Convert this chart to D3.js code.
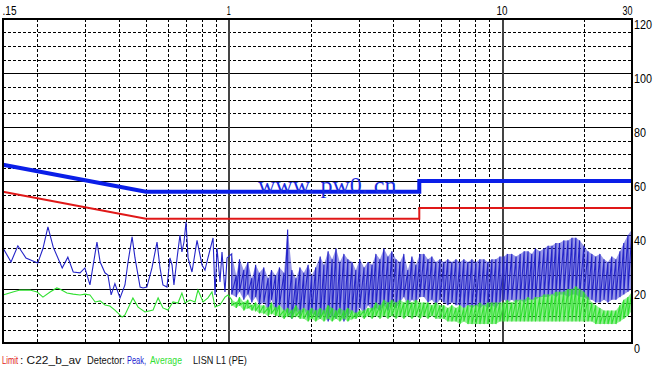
<!DOCTYPE html>
<html><head><meta charset="utf-8">
<script src="https://cdn.jsdelivr.net/npm/d3@7"></script>
<style>
html,body{margin:0;padding:0;background:#fff;}
svg{display:block;}
text{font-family:'Liberation Sans',Arial,sans-serif;}
</style></head>
<body><svg id="c" width="654" height="372"></svg>
<script>
// ---- data ----
const xTickValues = [0.15, 1, 10, 30];
const xTickLabels = [".15", "1", "10", "30"];
const yTickValues = [0, 20, 40, 60, 80, 100, 120];
const xMinorGrid = [0.2,0.3,0.4,0.5,0.6,0.7,0.8,0.9,2,3,4,5,6,7,8,9,20];
const xMajorGrid = [1, 10];

const limitPkFreq = [0.15, 0.5, 5, 5, 30];
const limitPkVal  = [66, 56, 56, 60, 60];
const limitAvFreq = [0.15, 0.5, 5, 5, 30];
const limitAvVal  = [56, 46, 46, 50, 50];

// low-frequency part of peak trace
const peakFreq = [0.150,0.1605,0.170,0.182,0.193,0.201,0.210,0.219,0.229,0.247,0.259,0.271,0.287,0.299,0.312,0.331,0.340,0.354,0.363,0.373,0.385,0.402,0.419,0.430,0.445,0.456,0.476,0.488,0.504,0.526,0.549,0.563,0.577,0.597,0.612,0.623,0.633,0.650,0.666,0.677,0.689,0.701,0.713,0.737,0.769,0.802,0.822,0.843,0.880,0.895,0.910,0.933,0.949,0.973,0.990];
const peakVal  = [35.2,30,36,31.5,30.4,29.6,35,43,35.5,27.8,31.8,26.3,26,27.8,21.5,37.4,30,26,25.2,17.8,22,16.7,21.5,30,39.3,31.5,20.7,20.4,20.7,27.8,37.4,27.8,21.5,20.7,31.5,28.9,21.5,31.5,40,33.7,37.4,44.8,31.5,26.3,38,28.9,27,31.5,38.9,17.8,35.2,22.6,33.7,18.9,31.5];

// low-frequency part of average trace
const avgFreq = [0.150,0.163,0.173,0.188,0.200,0.210,0.223,0.236,0.242,0.257,0.271,0.287,0.299,0.312,0.326,0.340,0.354,0.369,0.385,0.409,0.419,0.448,0.468,0.496,0.531,0.554,0.577,0.602,0.628,0.655,0.677,0.695,0.725,0.756,0.775,0.809,0.843,0.872,0.895,0.933,0.973,0.998];
const avgVal  = [17.8,18.9,19.6,19.6,18.9,17,18.9,20.4,20,18.5,18.1,17.8,18.1,17.8,15.2,15.6,14.1,13.7,12.2,9.6,10.4,16.7,13.3,11.5,12.2,16.7,13,12.2,15.2,14.8,18.5,14.8,15.9,15.2,19.6,15.2,16.7,18.9,13.3,14.1,17,17.8];

// high-frequency sweep (dense harmonics): per frequency, upper and lower swing
const sweepFreq = [1.03,1.07,1.10,1.14,1.18,1.22,1.26,1.30,1.35,1.40,1.44,1.49,1.54,1.60,1.65,1.71,1.77,1.83,1.89,1.96,2.02,2.09,2.17,2.24,2.32,2.40,2.48,2.56,2.65,2.74,2.84,2.93,3.03,3.14,3.25,3.36,3.47,3.59,3.71,3.84,3.97,4.11,4.25,4.39,4.54,4.70,4.86,5.03,5.20,5.38,5.56,5.75,5.95,6.15,6.36,6.58,6.81,7.04,7.28,7.53,7.79,8.06,8.33,8.62,8.91,9.22,9.53,9.86,10.2,10.5,10.9,11.3,11.7,12.1,12.5,12.9,13.3,13.8,14.3,14.8,15.3,15.8,16.3,16.9,17.5,18.1,18.7,19.3,20.0,20.7,21.4,22.1,22.9,23.7,24.5,25.3,26.2,27.1,28.0,29.0,30.0];
const peakHi = [33,25,31,27,30,24,29,26, 28,24,27,25,28,26, 42, 27,24,28,26,29,25,28, 32,29,34,31,35,30,33,31, 30,27,31,28,30,29, 33,31,35,32,34,31, 30,33,27,32,29,33, 33,31,32,30,31,30,31,30,31, 30,31,30,31,30,31,31,30,31,31, 32,32,33,33,32,33,34,34,33,35,34, 35,36,36,37,37,38,38,39,39,38, 36,34,33,32,33,31,30,32,31,34,37,40,42];
const peakLo = [18,17,19,16,18,15,17,14, 15,12,16,11,14,12, 11,9,12,10,13,9,11,10, 9,11,8,10,9,11,8,10, 12,10,13,11,14,12, 13,12,14,12,15,13, 15,17,14,16,15,17, 17,15,16,14,16,15,14,15,14, 14,13,14,13,14,13,14,13,14,13, 15,16,15,16,15,16,15,16,16,16,17, 17,17,18,17,18,18,17,18,18,17, 17,16,16,15,15,16,15,16,16,17,18,19,20];
const avgHi = [16,15,17,15,16,14,15,14, 14,13,15,13,14,12, 13,12,14,12,13,12,13,12, 13,12,14,13,12,13,12,13, 12,11,12,12,13,13, 15,14,16,15,16,15,16,15,16,15,16,15, 15,15,14,15,14, 14,13,14,13,14,13,14,14,14,15,14,15,15,15,15, 15,16,15,16,16,16,17,16,17,17,18, 18,18,19,19,19,20,20,21,20, 19,17,15,14,13,12,12,12,12, 14,16,17,19];
const avgLo = [14,13,14,12,13,12,12,11, 11,10,11,10,10,9, 10,9,10,9,9,8,9,8, 9,8,9,8,9,8,9,8, 9,9,10,9,10,9, 10,9,10,9,10,9,10,9,10,9,10,9, 10,9,10,9,9, 9,8,8,8,7,8,7,7,7,7,7,7,7,7,8, 8,8,8,8,8,8,8,8,8,8,8, 8,8,8,8,8,8,8,8,8, 8,8,8,7,7,7,7,7,7, 8,9,10,12];

const watermark = "www. pw0. cn";
const legendParts = [
  {t:"Limit", c:"#e01818"}, {t:": C22_b_av", c:"#111"},
  {t:"Detector:", c:"#111"}, {t:"Peak,", c:"#2020d0"},
  {t:"Average", c:"#30e030"}, {t:"LISN L1 (PE)", c:"#111"}
];
// text layout (positions/widths of legend pieces and tick labels)
const legendX = [2, 20, 87, 127, 150, 193];
const legendW = [16, 61, 38, 19, 32, 54];
const xLabelW = [14, 4, 11, 10];

// ---- drawing ----
const svg = d3.select("#c");
const L = 3, R = 632, T = 19, B = 343;
const x = d3.scaleLog().domain([0.15, 30]).range([L, R]);
const y = d3.scaleLinear().domain([0, 120]).range([B, T]);
const px = v => Math.round(v) + 0.5;

const grid = svg.append("g").attr("shape-rendering", "crispEdges");
d3.range(5, 120, 5).forEach(v => {
  grid.append("line").attr("x1", L).attr("x2", R).attr("y1", px(y(v))).attr("y2", px(y(v)))
    .attr("stroke", "#000").attr("stroke-width", 1)
    .attr("stroke-dasharray", v % 20 === 0 ? null : "3,2");
});
xMinorGrid.forEach(f => {
  grid.append("line").attr("x1", px(x(f))).attr("x2", px(x(f))).attr("y1", T).attr("y2", B)
    .attr("stroke", "#000").attr("stroke-width", 1).attr("stroke-dasharray", "3,2");
});
xMajorGrid.forEach(f => {
  grid.append("line").attr("x1", px(x(f))).attr("x2", px(x(f))).attr("y1", T).attr("y2", B)
    .attr("stroke", "#444").attr("stroke-width", 2);
});

const line = d3.line().x(d => x(d[0])).y(d => y(d[1]));

// peak trace: sweep band fill + zigzag line
svg.append("path")
  .attr("d", d3.area().x((d, i) => x(sweepFreq[i])).y0((d, i) => y(peakLo[i])).y1((d, i) => y(peakHi[i]))(sweepFreq))
  .attr("fill", "#3030d0").attr("fill-opacity", 0.5);
const pk = peakFreq.map((f, i) => [f, peakVal[i]]);
sweepFreq.forEach((f, i) => { pk.push([f, peakHi[i]]); pk.push([f, peakLo[i]]); });
svg.append("path").attr("d", line(pk)).attr("fill", "none")
  .attr("stroke", "#2424c8").attr("stroke-width", 1.1);

// average trace
svg.append("path")
  .attr("d", d3.area().x((d, i) => x(sweepFreq[i])).y0((d, i) => y(avgLo[i])).y1((d, i) => y(avgHi[i]))(sweepFreq))
  .attr("fill", "#3ae03a").attr("fill-opacity", 0.55);
const av = avgFreq.map((f, i) => [f, avgVal[i]]);
sweepFreq.forEach((f, i) => { av.push([f, avgHi[i]]); av.push([f, avgLo[i]]); });
svg.append("path").attr("d", line(av)).attr("fill", "none")
  .attr("stroke", "#30e030").attr("stroke-width", 1.1);

// limits
svg.append("path").attr("d", line(limitAvFreq.map((f, i) => [f, limitAvVal[i]])))
  .attr("fill", "none").attr("stroke", "#e01818").attr("stroke-width", 2);
svg.append("path").attr("d", line(limitPkFreq.map((f, i) => [f, limitPkVal[i]])))
  .attr("fill", "none").attr("stroke", "#0a1ee8").attr("stroke-width", 4);

// watermark
svg.append("text").attr("x", 258).attr("y", 193).text(watermark)
  .style("font-family", "'Liberation Serif','Times New Roman',serif")
  .style("font-size", "24px").attr("fill", "#1a2ce0");

// frame
svg.append("rect").attr("x", L).attr("y", T).attr("width", R - L).attr("height", B - T)
  .attr("fill", "none").attr("stroke", "#000").attr("stroke-width", 2)
  .attr("shape-rendering", "crispEdges");

// top axis
const xAxis = svg.append("g").attr("transform", `translate(0,${T})`)
  .call(d3.axisTop(x).tickValues(xTickValues).tickSize(0).tickPadding(4)
        .tickFormat((d, i) => xTickLabels[i]));
xAxis.select(".domain").remove();
xAxis.selectAll("text").style("font-size", "12px").style("font-family", "'Liberation Sans',Arial,sans-serif")
  .attr("fill", "#000")
  .attr("text-anchor", (d, i) => i === 0 ? "start" : (i === xTickValues.length - 1 ? "end" : "middle"))
  .attr("dx", (d, i) => i === 0 ? -1 : 0)
  .attr("textLength", (d, i) => xLabelW[i]).attr("lengthAdjust", "spacingAndGlyphs");

// right axis
const yAxis = svg.append("g").attr("transform", `translate(${R},0)`)
  .call(d3.axisRight(y).tickValues(yTickValues).tickSize(0).tickPadding(2));
yAxis.select(".domain").remove();
yAxis.selectAll("text").style("font-size", "12px").style("font-family", "'Liberation Sans',Arial,sans-serif")
  .attr("fill", "#000").attr("dy", "0.8em")
  .attr("textLength", d => String(d).length * 6).attr("lengthAdjust", "spacingAndGlyphs");

// legend: each piece horizontally scaled to its measured width
legendParts.forEach((p, i) => {
  const t = svg.append("text").attr("x", 0).attr("y", 0).text(p.t)
    .attr("fill", p.c).style("font-size", "11px");
  const nat = t.node().getComputedTextLength();
  t.attr("transform", `translate(${legendX[i]},364) scale(${legendW[i] / nat},1)`);
});
</script></body></html>
